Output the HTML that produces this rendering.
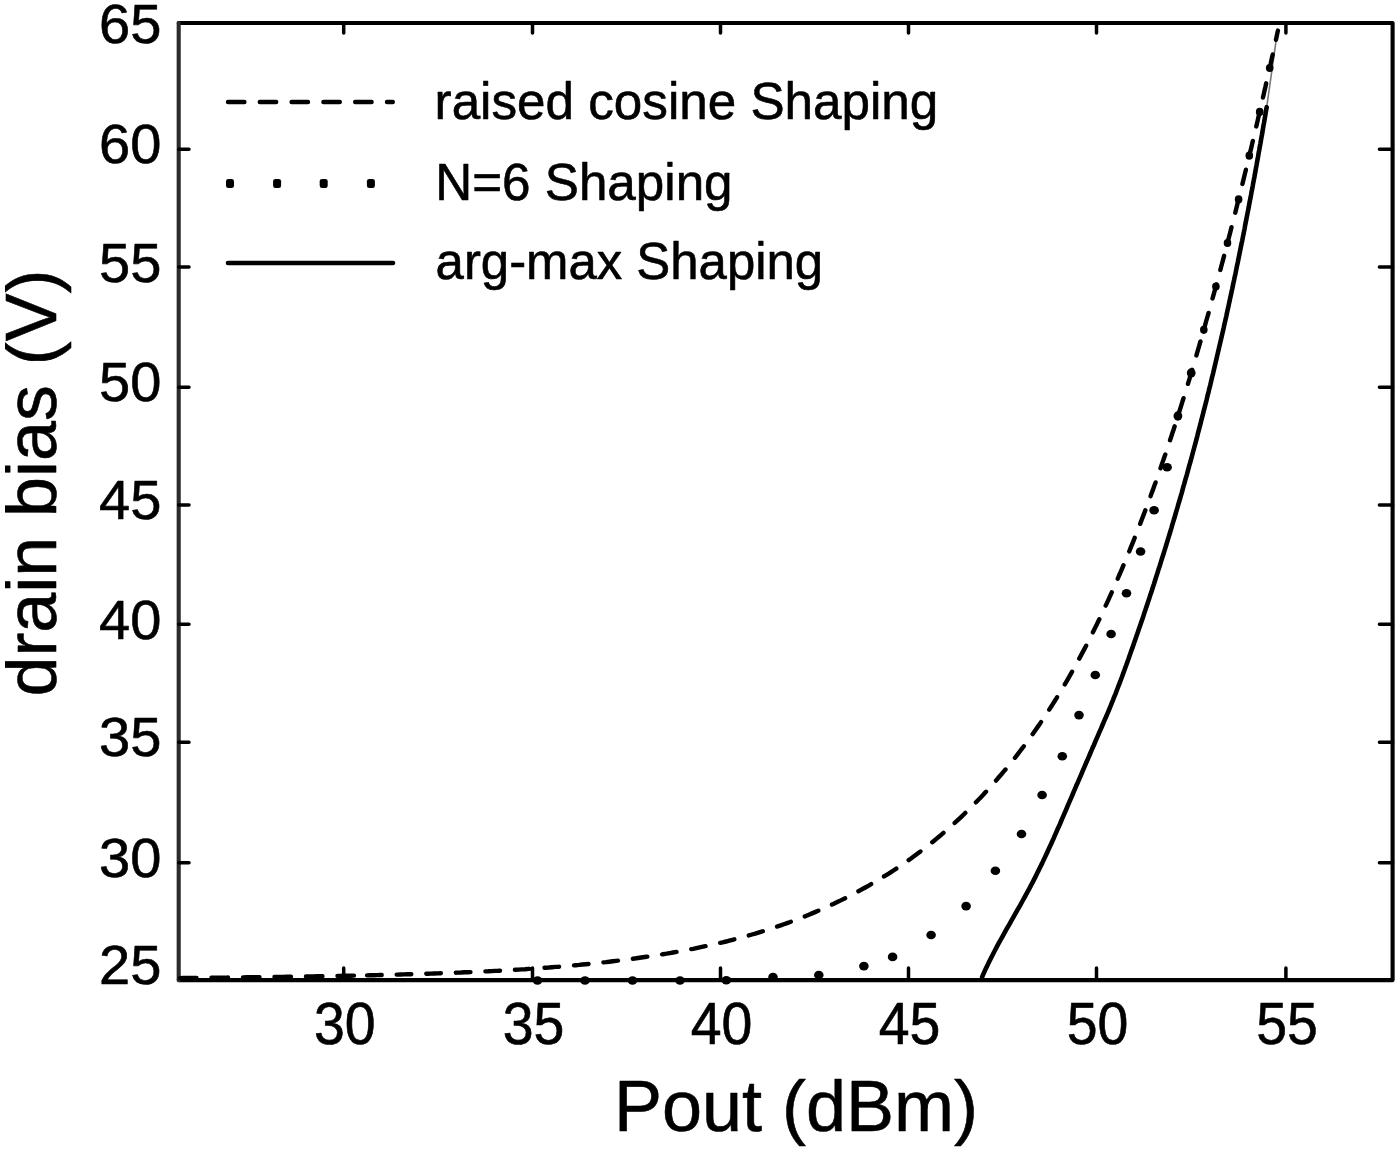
<!DOCTYPE html>
<html lang="en"><head><meta charset="utf-8"><title>drain bias vs Pout</title>
<style>
html,body{margin:0;padding:0;background:#fff;}
body{width:1400px;height:1152px;overflow:hidden;font-family:"Liberation Sans",Arial,sans-serif;}
svg{display:block;filter:blur(0.55px);}
</style></head><body>
<svg width="1400" height="1152" viewBox="0 0 1400 1152">
<rect width="1400" height="1152" fill="#fff"/>
<g id="plot" fill="none" stroke="#000">
<path d="M178.7,23.0 H1392.6 V980.1 H178.7" stroke-width="4.1" stroke-linejoin="round" stroke-linecap="round"/>
<path d="M178.7,23.0 V980.1" stroke="#2b2b2b" stroke-width="4.1" stroke-linecap="round"/>
<path d="M343.7,980.1 v-12 M343.7,23.0 v10 M532.5,980.1 v-12 M532.5,23.0 v10 M720.5,980.1 v-12 M720.5,23.0 v10 M908.5,980.1 v-12 M908.5,23.0 v10 M1096.5,980.1 v-12 M1096.5,23.0 v10 M1285.9,980.1 v-12 M1285.9,23.0 v10 M178.7,149.2 h10.3 M1392.6,149.2 h-13.2 M178.7,266.9 h10.3 M1392.6,266.9 h-13.2 M178.7,387.2 h10.3 M1392.6,387.2 h-13.2 M178.7,505.0 h10.3 M1392.6,505.0 h-13.2 M178.7,624.3 h10.3 M1392.6,624.3 h-13.2 M178.7,742.3 h10.3 M1392.6,742.3 h-13.2 M178.7,862.7 h10.3 M1392.6,862.7 h-13.2" stroke-width="3.5" stroke-linecap="round"/>
<path d="M1277.5,30.6 L1266.7,107.2" stroke="#777" stroke-width="1.6" stroke-linecap="round"/>
<path d="M1266.7,107.2 L1266.1,110.2 L1265.6,113.3 L1265.1,116.3 L1264.6,119.3 L1264.1,122.4 L1263.5,125.4 L1263.0,128.5 L1262.5,131.5 L1262.0,134.5 L1261.4,137.6 L1260.9,140.6 L1260.4,143.6 L1259.8,146.7 L1259.3,149.7 L1258.7,152.7 L1258.2,155.8 L1257.7,158.8 L1257.1,161.9 L1256.6,164.9 L1256.0,167.9 L1255.5,171.0 L1254.9,174.0 L1254.4,177.0 L1253.8,180.1 L1253.2,183.1 L1252.7,186.1 L1252.1,189.2 L1251.5,192.2 L1251.0,195.2 L1250.4,198.3 L1249.8,201.3 L1249.2,204.3 L1248.7,207.3 L1248.1,210.4 L1247.5,213.4 L1246.9,216.4 L1246.3,219.5 L1245.7,222.5 L1245.1,225.5 L1244.6,228.6 L1244.0,231.6 L1243.4,234.6 L1242.8,237.6 L1242.2,240.7 L1241.5,243.7 L1240.9,246.7 L1240.3,249.7 L1239.7,252.8 L1239.1,255.8 L1238.5,258.8 L1237.9,261.8 L1237.2,264.9 L1236.6,267.9 L1236.0,270.9 L1235.4,273.9 L1234.7,276.9 L1234.1,280.0 L1233.4,283.0 L1232.8,286.0 L1232.2,289.0 L1231.5,292.0 L1230.9,295.1 L1230.2,298.1 L1229.6,301.1 L1228.9,304.1 L1228.3,307.1 L1227.6,310.1 L1226.9,313.2 L1226.3,316.2 L1225.6,319.2 L1224.9,322.2 L1224.2,325.2 L1223.6,328.2 L1222.9,331.2 L1222.2,334.2 L1221.5,337.2 L1220.8,340.3 L1220.1,343.3 L1219.4,346.3 L1218.7,349.3 L1218.0,352.3 L1217.3,355.3 L1216.6,358.3 L1215.9,361.3 L1215.2,364.3 L1214.5,367.3 L1213.8,370.3 L1213.1,373.3 L1212.3,376.3 L1211.6,379.3 L1210.9,382.3 L1210.2,385.3 L1209.4,388.3 L1208.7,391.3 L1207.9,394.3 L1207.2,397.3 L1206.5,400.3 L1205.7,403.3 L1205.0,406.2 L1204.2,409.2 L1203.4,412.2 L1202.7,415.2 L1201.9,418.2 L1201.1,421.2 L1200.4,424.2 L1199.6,427.2 L1198.8,430.1 L1198.0,433.1 L1197.3,436.1 L1196.5,439.1 L1195.7,442.1 L1194.9,445.1 L1194.1,448.0 L1193.3,451.0 L1192.5,454.0 L1191.7,457.0 L1190.9,459.9 L1190.1,462.9 L1189.2,465.9 L1188.4,468.9 L1187.6,471.8 L1186.8,474.8 L1185.9,477.8 L1185.1,480.7 L1184.3,483.7 L1183.4,486.7 L1182.6,489.6 L1181.8,492.6 L1180.9,495.6 L1180.1,498.5 L1179.2,501.5 L1178.3,504.4 L1177.5,507.4 L1176.6,510.4 L1175.7,513.3 L1174.9,516.3 L1174.0,519.2 L1173.1,522.2 L1172.2,525.1 L1171.4,528.1 L1170.5,531.0 L1169.6,534.0 L1168.7,536.9 L1167.8,539.9 L1166.9,542.8 L1166.0,545.7 L1165.1,548.7 L1164.2,551.6 L1163.3,554.6 L1162.3,557.5 L1161.4,560.4 L1160.5,563.4 L1159.6,566.3 L1158.6,569.2 L1157.7,572.2 L1156.8,575.1 L1155.8,578.0 L1154.9,581.0 L1154.0,583.9 L1153.0,586.8 L1152.1,589.7 L1151.1,592.7 L1150.1,595.6 L1149.2,598.5 L1148.2,601.4 L1147.3,604.3 L1146.3,607.3 L1145.3,610.2 L1144.3,613.1 L1143.4,616.0 L1142.4,618.9 L1141.4,621.8 L1140.4,624.7 L1139.4,627.6 L1138.4,630.5 L1137.4,633.4 L1136.4,636.3 L1135.4,639.2 L1134.4,642.1 L1133.4,645.0 L1132.4,647.9 L1131.3,650.8 L1130.3,653.7 L1129.3,656.6 L1128.3,659.5 L1127.2,662.4 L1126.2,665.3 L1125.1,668.2 L1124.1,671.0 L1123.0,673.9 L1122.0,676.8 L1120.9,679.7 L1119.8,682.6 L1118.7,685.4 L1117.6,688.3 L1116.5,691.2 L1115.4,694.1 L1114.2,696.9 L1113.1,699.8 L1111.9,702.7 L1110.8,705.5 L1109.6,708.4 L1108.4,711.3 L1107.2,714.1 L1106.0,717.0 L1104.7,719.8 L1103.5,722.7 L1102.3,725.5 L1101.1,728.4 L1099.8,731.2 L1098.6,734.1 L1097.4,736.9 L1096.1,739.8 L1094.9,742.6 L1093.7,745.5 L1092.4,748.3 L1091.2,751.1 L1090.0,754.0 L1088.8,756.8 L1087.6,759.6 L1086.3,762.5 L1085.1,765.3 L1083.9,768.1 L1082.7,770.9 L1081.5,773.8 L1080.3,776.6 L1079.1,779.4 L1077.9,782.2 L1076.6,785.0 L1075.4,787.9 L1074.2,790.7 L1073.0,793.5 L1071.8,796.3 L1070.6,799.1 L1069.4,801.9 L1068.2,804.7 L1067.0,807.5 L1065.8,810.3 L1064.6,813.1 L1063.4,815.9 L1062.2,818.7 L1061.0,821.5 L1059.8,824.3 L1058.6,827.1 L1057.3,829.8 L1056.1,832.6 L1054.9,835.4 L1053.7,838.2 L1052.4,841.0 L1051.2,843.7 L1049.9,846.5 L1048.6,849.3 L1047.4,852.0 L1046.1,854.8 L1044.8,857.6 L1043.5,860.3 L1042.2,863.1 L1040.8,865.9 L1039.5,868.6 L1038.1,871.4 L1036.8,874.1 L1035.4,876.9 L1034.0,879.6 L1032.6,882.4 L1031.1,885.1 L1029.7,887.9 L1028.2,890.6 L1026.7,893.3 L1025.2,896.1 L1023.7,898.8 L1022.2,901.5 L1020.7,904.3 L1019.2,907.0 L1017.6,909.7 L1016.1,912.4 L1014.5,915.2 L1013.0,917.9 L1011.4,920.6 L1009.9,923.3 L1008.4,926.0 L1006.8,928.7 L1005.3,931.4 L1003.8,934.1 L1002.3,936.8 L1000.8,939.5 L999.3,942.2 L997.8,944.9 L996.4,947.6 L995.0,950.3 L993.6,953.0 L992.2,955.7 L990.8,958.4 L989.5,961.1 L988.2,963.7 L986.9,966.4 L985.6,969.1 L984.4,971.8 L983.2,974.4 L982.1,977.1" stroke-width="4.6" stroke-linejoin="round" stroke-linecap="round"/>
<path d="M180.0,978.1 L183.3,978.0 L186.6,978.0 L189.9,978.0 L193.3,977.9 L196.6,977.9 L199.9,977.9 L203.2,977.8 L206.6,977.8 L209.9,977.8 L213.2,977.7 L216.6,977.7 L219.9,977.6 L223.2,977.6 L226.6,977.6 L229.9,977.5 L233.2,977.5 L236.6,977.4 L239.9,977.4 L243.3,977.4 L246.6,977.3 L249.9,977.3 L253.3,977.2 L256.6,977.2 L259.9,977.2 L263.3,977.1 L266.6,977.1 L270.0,977.0 L273.3,977.0 L276.7,976.9 L280.0,976.9 L283.3,976.9 L286.7,976.8 L290.0,976.8 L293.4,976.7 L296.7,976.7 L300.1,976.6 L303.4,976.6 L306.8,976.5 L310.1,976.4 L313.5,976.4 L316.8,976.3 L320.2,976.3 L323.5,976.2 L326.9,976.2 L330.2,976.1 L333.6,976.0 L336.9,976.0 L340.3,975.9 L343.6,975.8 L347.0,975.8 L350.3,975.7 L353.7,975.6 L357.1,975.6 L360.4,975.5 L363.8,975.4 L367.1,975.4" stroke-width="4.4" stroke-dasharray="16.5 15" stroke-linecap="round"/>
<path d="M367.1,975.4 L370.5,975.3 L373.8,975.2 L377.2,975.1 L380.6,975.0 L383.9,975.0 L387.3,974.9 L390.6,974.8 L394.0,974.7 L397.3,974.6 L400.7,974.5 L404.1,974.4 L407.4,974.3 L410.8,974.2 L414.2,974.1 L417.5,974.0 L420.9,973.9 L424.2,973.8 L427.6,973.7 L431.0,973.6 L434.3,973.5 L437.7,973.4 L441.1,973.3 L444.4,973.1 L447.8,973.0 L451.1,972.9 L454.5,972.8 L457.9,972.6 L461.2,972.5 L464.6,972.3 L468.0,972.2 L471.3,972.1 L474.7,971.9 L478.1,971.8 L481.4,971.6 L484.8,971.4 L488.2,971.3 L491.5,971.1 L494.9,970.9 L498.3,970.8 L501.6,970.6 L505.0,970.4 L508.4,970.2 L511.7,970.0 L515.1,969.8 L518.5,969.6 L521.8,969.4 L525.2,969.2 L528.6,968.9 L531.9,968.7 L535.3,968.5 L538.7,968.2 L542.0,968.0 L545.4,967.7 L548.8,967.5 L552.1,967.2 L555.5,966.9 L558.9,966.7 L562.2,966.4 L565.6,966.1 L569.0,965.8 L572.3,965.5 L575.7,965.2 L579.1,964.9 L582.4,964.5 L585.8,964.2 L589.2,963.9 L592.5,963.5 L595.9,963.2 L599.3,962.8 L602.6,962.4 L606.0,962.1 L609.4,961.7 L612.7,961.3 L616.1,960.9 L619.5,960.5 L622.8,960.0 L626.2,959.6 L629.6,959.2 L632.9,958.7 L636.3,958.3 L639.6,957.8 L643.0,957.3 L646.4,956.8 L649.7,956.3 L653.1,955.8 L656.4,955.3 L659.8,954.8 L663.1,954.2 L666.4,953.7 L669.8,953.1 L673.1,952.5 L676.5,951.9 L679.8,951.3 L683.1,950.7 L686.4,950.1 L689.8,949.4 L693.1,948.8 L696.4,948.1 L699.7,947.4 L703.0,946.7 L706.3,946.0 L709.6,945.3 L712.9,944.6 L716.2,943.8 L719.5,943.0 L722.7,942.3 L726.0,941.5 L729.3,940.6 L732.5,939.8 L735.8,939.0 L739.0,938.1 L742.3,937.2 L745.5,936.3 L748.8,935.4 L752.0,934.5 L755.2,933.6 L758.4,932.6 L761.6,931.6 L764.8,930.6 L768.0,929.6 L771.2,928.6 L774.4,927.5 L777.6,926.4 L780.7,925.4 L783.9,924.2 L787.1,923.1 L790.2,922.0 L793.3,920.8 L796.5,919.6 L799.6,918.4 L802.7,917.2 L805.8,916.0 L808.9,914.7 L812.0,913.4 L815.1,912.1 L818.1,910.8 L821.2,909.5 L824.2,908.1 L827.3,906.8 L830.3,905.4 L833.3,904.0 L836.3,902.5 L839.3,901.1 L842.3,899.6 L845.3,898.1 L848.3,896.6 L851.2,895.1 L854.2,893.6 L857.1,892.0 L860.0,890.4 L862.9,888.8 L865.8,887.2 L868.7,885.6 L871.6,883.9 L874.5,882.2 L877.3,880.5 L880.2,878.8 L883.0,877.1 L885.8,875.3 L888.7,873.6 L891.4,871.8 L894.2,870.0 L897.0,868.1 L899.8,866.3 L902.5,864.4 L905.2,862.5 L907.9,860.6 L910.7,858.7 L913.3,856.8 L916.0,854.8 L918.7,852.8 L921.3,850.8 L924.0,848.8 L926.6,846.8 L929.2,844.7 L931.8,842.6 L934.4,840.5 L936.9,838.4 L939.5,836.3 L942.0,834.1 L944.5,832.0 L947.0,829.8 L949.5,827.6 L952.0,825.4 L954.5,823.1 L956.9,820.9 L959.4,818.6 L961.8,816.3 L964.2,814.0 L966.6,811.7 L969.0,809.3 L971.3,807.0 L973.7,804.6 L976.0,802.2 L978.4,799.8 L980.7,797.4 L983.0,795.0 L985.2,792.5 L987.5,790.1 L989.8,787.6 L992.0,785.1 L994.2,782.6 L996.4,780.1 L998.6,777.5 L1000.8,775.0 L1003.0,772.4 L1005.1,769.9 L1007.3,767.3 L1009.4,764.7 L1011.5,762.0 L1013.6,759.4 L1015.7,756.8 L1017.8,754.1 L1019.8,751.5 L1021.8,748.8 L1023.9,746.1 L1025.9,743.4 L1027.9,740.7 L1029.9,737.9 L1031.8,735.2 L1033.8,732.5 L1035.7,729.7 L1037.7,726.9 L1039.6,724.2 L1041.5,721.4 L1043.4,718.6 L1045.2,715.7 L1047.1,712.9 L1048.9,710.1 L1050.8,707.2 L1052.6,704.4 L1054.4,701.5 L1056.2,698.7 L1057.9,695.8 L1059.7,692.9 L1061.4,690.0 L1063.2,687.1 L1064.9,684.2 L1066.6,681.3 L1068.3,678.3 L1070.0,675.4 L1071.7,672.4 L1073.3,669.5 L1075.0,666.5 L1076.6,663.6 L1078.2,660.6 L1079.8,657.6 L1081.4,654.6 L1083.0,651.6 L1084.6,648.6 L1086.2,645.6 L1087.7,642.6 L1089.3,639.6 L1090.8,636.5 L1092.3,633.5 L1093.8,630.5 L1095.3,627.4 L1096.8,624.4 L1098.3,621.3 L1099.8,618.2 L1101.2,615.2 L1102.7,612.1 L1104.1,609.0 L1105.5,606.0 L1107.0,602.9 L1108.4,599.8 L1109.8,596.7 L1111.2,593.6 L1112.6,590.5 L1113.9,587.4 L1115.3,584.3 L1116.7,581.2 L1118.0,578.1 L1119.3,575.0 L1120.7,571.9 L1122.0,568.8 L1123.3,565.7 L1124.6,562.5 L1125.9,559.4 L1127.2,556.3 L1128.5,553.2 L1129.8,550.0 L1131.0,546.9 L1132.3,543.8 L1133.6,540.7 L1134.8,537.5 L1136.0,534.4 L1137.3,531.3 L1138.5,528.1 L1139.7,525.0 L1140.9,521.9 L1142.1,518.7 L1143.3,515.6 L1144.5,512.4 L1145.7,509.3 L1146.9,506.1 L1148.1,503.0 L1149.2,499.8 L1150.4,496.7 L1151.5,493.5 L1152.7,490.4 L1153.8,487.2 L1155.0,484.1 L1156.1,480.9 L1157.2,477.7 L1158.3,474.6 L1159.4,471.4 L1160.5,468.2 L1161.6,465.1 L1162.7,461.9 L1163.8,458.7 L1164.9,455.6 L1166.0,452.4 L1167.0,449.2 L1168.1,446.0 L1169.2,442.9 L1170.2,439.7 L1171.3,436.5 L1172.3,433.3 L1173.4,430.2 L1174.4,427.0 L1175.4,423.8 L1176.4,420.6 L1177.5,417.4 L1178.5,414.2 L1179.5,411.0 L1180.5,407.8 L1181.5,404.6 L1182.5,401.4 L1183.5,398.3 L1184.5,395.1 L1185.5,391.9 L1186.5,388.7 L1187.4,385.5 L1188.4,382.3 L1189.4,379.1 L1190.3,375.8 L1191.3,372.6 L1192.3,369.4 L1193.2,366.2 L1194.2,363.0 L1195.1,359.8 L1196.1,356.6 L1197.0,353.4 L1197.9,350.2 L1198.9,347.0 L1199.8,343.7 L1200.7,340.5 L1201.7,337.3 L1202.6,334.1 L1203.5,330.9 L1204.4,327.6 L1205.3,324.4 L1206.2,321.2 L1207.1,318.0 L1208.1,314.7 L1209.0,311.5 L1209.9,308.3 L1210.8,305.0 L1211.7,301.8 L1212.5,298.6 L1213.4,295.3 L1214.3,292.1 L1215.2,288.9 L1216.1,285.6 L1217.0,282.4 L1217.8,279.2 L1218.7,275.9 L1219.6,272.7 L1220.5,269.4 L1221.3,266.2 L1222.2,263.0 L1223.1,259.7 L1223.9,256.5 L1224.8,253.2 L1225.6,250.0 L1226.5,246.7 L1227.3,243.5 L1228.2,240.2 L1229.0,237.0 L1229.9,233.7 L1230.7,230.5 L1231.5,227.2 L1232.4,224.0 L1233.2,220.7 L1234.0,217.4 L1234.9,214.2 L1235.7,210.9 L1236.5,207.7 L1237.3,204.4 L1238.2,201.1 L1239.0,197.9 L1239.8,194.6 L1240.6,191.4 L1241.4,188.1 L1242.2,184.8 L1243.0,181.6 L1243.8,178.3 L1244.6,175.0 L1245.4,171.8 L1246.2,168.5 L1247.0,165.2 L1247.8,162.0 L1248.6,158.7 L1249.4,155.4 L1250.2,152.1 L1251.0,148.9 L1251.8,145.6 L1252.5,142.3 L1253.3,139.0 L1254.1,135.8 L1254.9,132.5 L1255.6,129.2 L1256.4,125.9 L1257.2,122.6 L1257.9,119.4 L1258.7,116.1 L1259.5,112.8 L1260.2,109.5 L1261.0,106.2 L1261.7,103.0 L1262.5,99.7 L1263.2,96.4 L1264.0,93.1 L1264.7,89.8 L1265.5,86.5 L1266.2,83.2 L1267.0,79.9 L1267.7,76.7 L1268.5,73.4 L1269.2,70.1 L1269.9,66.8 L1270.7,63.5 L1271.4,60.2 L1272.1,56.9 L1272.9,53.6 L1273.6,50.3 L1274.3,47.0 L1275.0,43.7 L1275.8,40.5 L1276.5,37.2 L1277.2,33.9 L1277.9,30.6" stroke-width="4.4" stroke-dasharray="14.6 15" stroke-linecap="round"/>
</g>
<g id="dots" fill="#000">
<ellipse cx="537.5" cy="980.5" rx="4.8" ry="4.3"/>
<ellipse cx="585.0" cy="980.5" rx="4.8" ry="4.3"/>
<ellipse cx="632.5" cy="980.5" rx="4.8" ry="4.3"/>
<ellipse cx="680.0" cy="980.5" rx="4.8" ry="4.3"/>
<ellipse cx="726.3" cy="980.3" rx="4.8" ry="4.3"/>
<ellipse cx="773.0" cy="977.0" rx="4.8" ry="4.3"/>
<ellipse cx="818.8" cy="975.0" rx="4.8" ry="4.3"/>
<ellipse cx="863.9" cy="966.1" rx="4.8" ry="4.3"/>
<ellipse cx="892.6" cy="956.9" rx="4.8" ry="4.3"/>
<ellipse cx="931.1" cy="935.0" rx="4.8" ry="4.3"/>
<ellipse cx="966.1" cy="906.1" rx="4.8" ry="4.3"/>
<ellipse cx="995.4" cy="870.7" rx="4.8" ry="4.3"/>
<ellipse cx="1021.5" cy="834.0" rx="4.8" ry="4.3"/>
<ellipse cx="1042.1" cy="795.0" rx="4.8" ry="4.3"/>
<ellipse cx="1062.3" cy="756.3" rx="4.8" ry="4.3"/>
<ellipse cx="1079.0" cy="715.1" rx="4.8" ry="4.3"/>
<ellipse cx="1095.3" cy="675.0" rx="4.8" ry="4.3"/>
<ellipse cx="1111.1" cy="634.0" rx="4.8" ry="4.3"/>
<ellipse cx="1126.5" cy="593.2" rx="4.8" ry="4.3"/>
<ellipse cx="1140.6" cy="551.5" rx="4.8" ry="4.3"/>
<ellipse cx="1154.1" cy="510.3" rx="4.8" ry="4.3"/>
<ellipse cx="1167.1" cy="467.3" rx="4.8" ry="4.3"/>
<ellipse cx="1177.9" cy="416.0" rx="4.4" ry="4.7"/>
<ellipse cx="1191.2" cy="373.0" rx="4.4" ry="4.7"/>
<ellipse cx="1203.8" cy="329.8" rx="3.8" ry="4.1"/>
<ellipse cx="1215.9" cy="286.5" rx="3.8" ry="4.1"/>
<ellipse cx="1227.5" cy="243.0" rx="3.8" ry="4.1"/>
<ellipse cx="1238.6" cy="199.4" rx="3.8" ry="4.1"/>
<ellipse cx="1249.3" cy="155.7" rx="3.8" ry="4.1"/>
<ellipse cx="1259.7" cy="111.9" rx="3.8" ry="4.1"/>
<ellipse cx="1269.7" cy="68.0" rx="3.8" ry="4.1"/>
</g>
<g id="legend" fill="none" stroke="#000">
<path d="M228,102 H392.8" stroke-width="4.4" stroke-dasharray="16.4 15.4" stroke-linecap="round"/>
<path d="M228,263 H393" stroke-width="4.6" stroke-linecap="round"/>
</g>
<g fill="#000">
<rect x="226.0" y="178.9" width="8" height="9.2" rx="2.4"/>
<rect x="273.1" y="178.9" width="8" height="9.2" rx="2.4"/>
<rect x="319.7" y="178.9" width="8" height="9.2" rx="2.4"/>
<rect x="366.9" y="178.9" width="8" height="9.2" rx="2.4"/>
</g>
<g font-family="'Liberation Sans', Arial, sans-serif" fill="#000" stroke="#000" stroke-width="0.6" stroke-linejoin="round">
<text x="161.3" y="42.8" font-size="56" text-anchor="end">65</text>
<text x="161.3" y="163.4" font-size="56" text-anchor="end">60</text>
<text x="161.3" y="281.7" font-size="56" text-anchor="end">55</text>
<text x="161.3" y="400.9" font-size="56" text-anchor="end">50</text>
<text x="161.3" y="519.2" font-size="56" text-anchor="end">45</text>
<text x="161.3" y="638.5" font-size="56" text-anchor="end">40</text>
<text x="161.3" y="756.4" font-size="56" text-anchor="end">35</text>
<text x="161.3" y="876.8" font-size="56" text-anchor="end">30</text>
<text x="161.3" y="984.3" font-size="56" text-anchor="end">25</text>
<text transform="translate(344.8,1044.1) scale(0.99,1.062)" font-size="56" text-anchor="middle">30</text>
<text transform="translate(533.6,1044.1) scale(0.99,1.062)" font-size="56" text-anchor="middle">35</text>
<text transform="translate(721.6,1044.1) scale(0.99,1.062)" font-size="56" text-anchor="middle">40</text>
<text transform="translate(909.6,1044.1) scale(0.99,1.062)" font-size="56" text-anchor="middle">45</text>
<text transform="translate(1097.6,1044.1) scale(0.99,1.062)" font-size="56" text-anchor="middle">50</text>
<text transform="translate(1287.0,1044.1) scale(0.99,1.062)" font-size="56" text-anchor="middle">55</text>
<text x="434.6" y="119.1" font-size="51.2">raised cosine Shaping</text>
<text x="435.2" y="200" font-size="51.2">N=6 Shaping</text>
<text x="435.6" y="279.4" font-size="50.9">arg-max Shaping</text>
<text x="796.0" y="1130.8" font-size="72" text-anchor="middle">Pout (dBm)</text>
<clipPath id="cl"><rect x="5" y="0" width="1395" height="1147.5"/></clipPath>
<g clip-path="url(#cl)"><text transform="translate(55.9,483.0) rotate(-90)" font-size="71.8" text-anchor="middle">drain bias (V)</text></g>
</g>
</svg>
</body></html>
